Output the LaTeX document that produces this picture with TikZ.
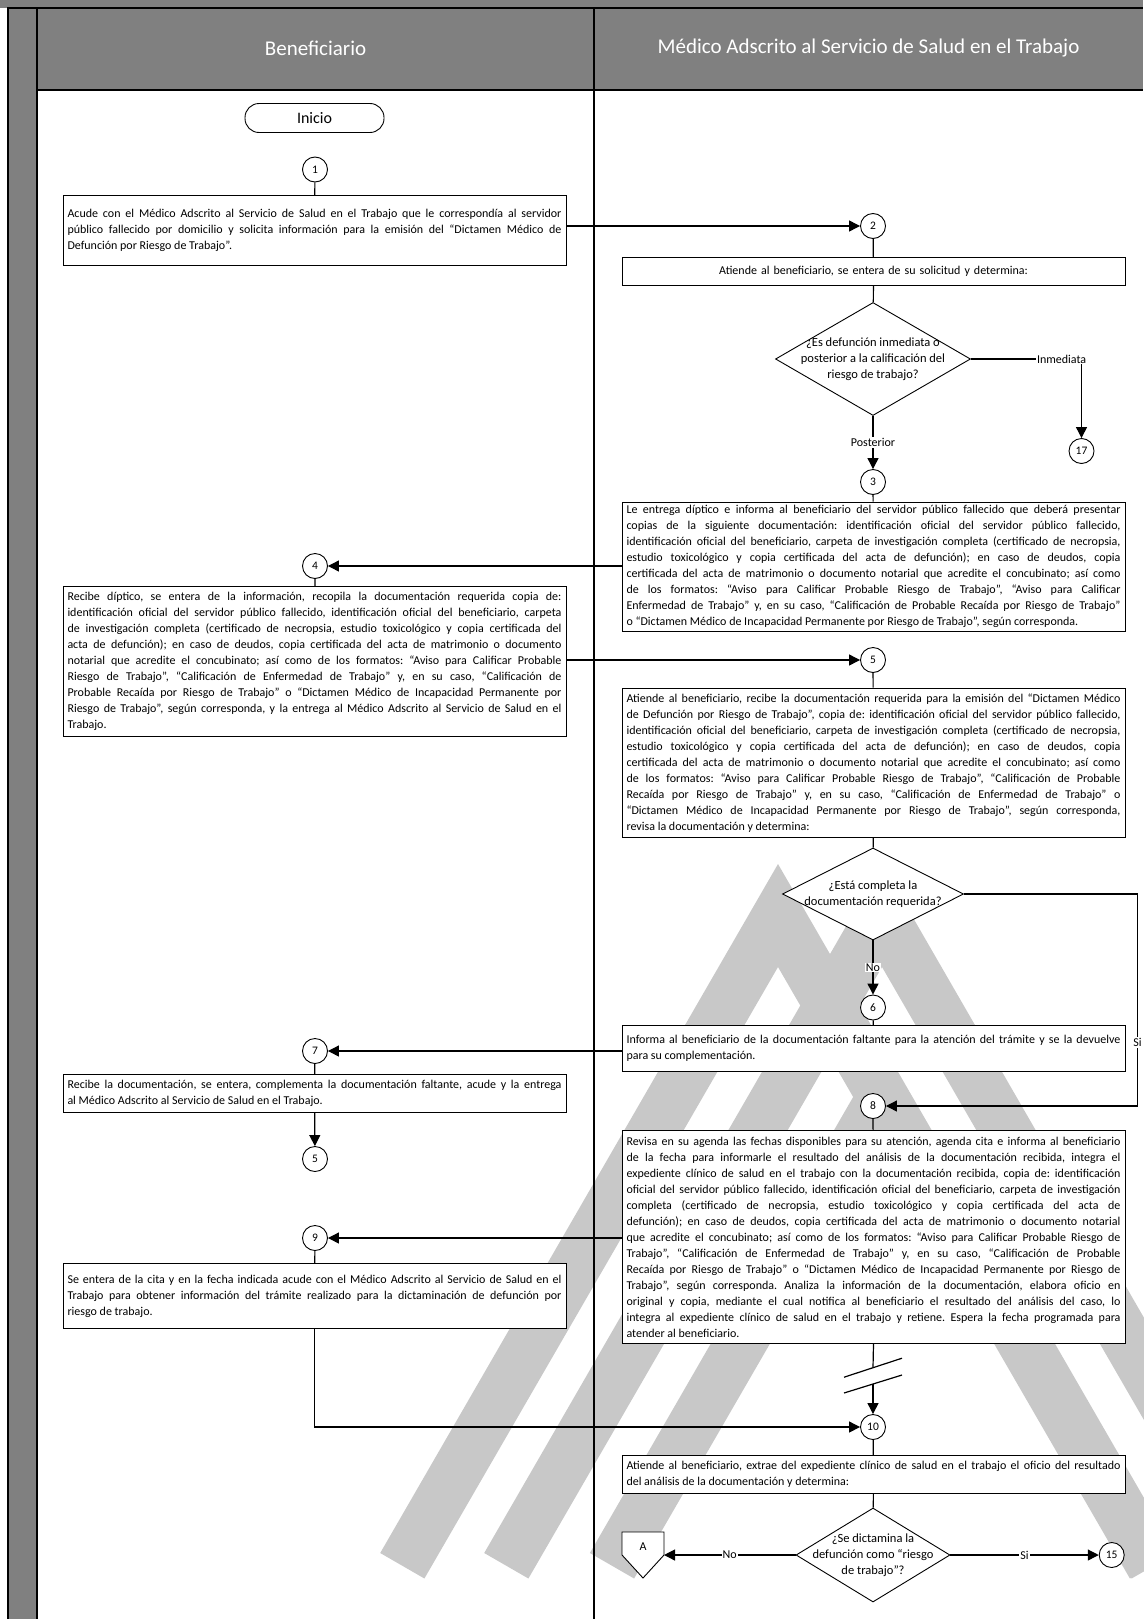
\documentclass[tikz,border=0pt]{standalone}
\usepackage{fontspec}
\setmainfont{Carlito}
\frenchspacing
\usepackage{tikz}
\usetikzlibrary{shapes.geometric, arrows.meta, positioning, calc}
\definecolor{lanecolor}{RGB}{128, 128, 128}
\definecolor{markcolor}{RGB}{200, 200, 200}

\begin{document}
\begin{tikzpicture}[x=1pt, y=-1pt,
    actbox/.style={draw, line width=0.9pt, fill=white, anchor=north, text width=494pt, align=justify, inner xsep=4.5pt, inner ysep=2.5pt, font=\fontsize{12}{16}\selectfont},
    numcircle/.style={draw, circle, fill=white, line width=0.9pt, minimum size=25pt, inner sep=0pt, font=\fontsize{11.5}{13}\selectfont},
    decision/.style={draw, diamond, fill=white, line width=0.9pt, inner sep=0pt},
    question/.style={align=center, font=\fontsize{12.5}{16}\selectfont},
    flow/.style={line width=1.2pt},
    arr/.style={flow, -{Triangle[length=11pt, width=11pt]}},
    tag/.style={fill=white, inner sep=1pt, font=\fontsize{12}{14}\selectfont},
    lanehead/.style={text=white, font=\fontsize{21}{24}\selectfont},
    laneline/.style={line width=1.6pt}]
    \useasboundingbox (0, 0) rectangle (1143, 1619);

    % Pool frame and lanes
    \fill[lanecolor] (0, 0) rectangle (1143, 8);
    \fill[lanecolor] (8, 8) rectangle (37, 1619);
    \fill[lanecolor] (37, 8) rectangle (1143, 90);

    % Watermark
    \fill[markcolor] (778, 864) -- (380.2, 1553) -- (424.4, 1578.5) -- (778, 967) -- (1131.6, 1578.5) -- (1175.8, 1553) -- cycle;
    \fill[markcolor] (882, 864) -- (484.2, 1553) -- (528.4, 1578.5) -- (882, 967) -- (1235.6, 1578.5) -- (1279.8, 1553) -- cycle;
    \fill[markcolor] (882, 1047) -- (589.9, 1553) -- (634.1, 1578.5) -- (882, 1150) -- (1129.9, 1578.5) -- (1174.1, 1553) -- cycle;

    \draw[laneline] (8, 1619) -- (8, 8) -- (1143, 8);
    \draw[laneline] (37, 8) -- (37, 1619);
    \draw[laneline] (37, 90) -- (1143, 90);
    \draw[laneline] (594, 8) -- (594, 1619);
    \node[lanehead] (hbenef) at (315.5, 48) {Beneficiario};
    \node[lanehead] (hmedico) at (868.5, 48) {Médico Adscrito al Servicio de Salud en el Trabajo};

    % Beneficiario lane
    \node[draw, line width=0.9pt, fill=white, rounded corners=14pt, minimum width=139pt, minimum height=29pt, font=\fontsize{16}{18}\selectfont] (inicio) at (314.5, 118) {Inicio};
    \node[numcircle] (c1) at (315, 169.5) {1};
    \node[actbox, minimum height=70pt] (b1) at (314.5, 195) {Acude con el Médico Adscrito al Servicio de Salud en el Trabajo que le correspondía al servidor\linebreak público fallecido por domicilio y solicita información para la emisión del “Dictamen Médico de\linebreak Defunción por Riesgo de Trabajo”.};
    \node[numcircle] (c4) at (315, 566) {4};
    \node[actbox, minimum height=150pt] (l4) at (314.5, 586) {Recibe díptico, se entera de la información, recopila la documentación requerida copia de:\linebreak identificación oficial del servidor público fallecido, identificación oficial del beneficiario, carpeta\linebreak de investigación completa (certificado de necropsia, estudio toxicológico y copia certificada del\linebreak acta de defunción); en caso de deudos, copia certificada del acta de matrimonio o documento\linebreak notarial que acredite el concubinato; así como de los formatos: “Aviso para Calificar Probable\linebreak Riesgo de Trabajo”, “Calificación de Enfermedad de Trabajo” y, en su caso, “Calificación de\linebreak Probable Recaída por Riesgo de Trabajo” o “Dictamen Médico de Incapacidad Permanente por\linebreak Riesgo de Trabajo”, según corresponda, y la entrega al Médico Adscrito al Servicio de Salud en el\linebreak Trabajo.};
    \node[numcircle] (c7) at (315, 1051) {7};
    \node[actbox, minimum height=38pt] (l7) at (314.5, 1074.3) {Recibe la documentación, se entera, complementa la documentación faltante, acude y la entrega\linebreak al Médico Adscrito al Servicio de Salud en el Trabajo.};
    \node[numcircle] (c5b) at (315, 1159) {5};
    \node[numcircle] (c9) at (315, 1238) {9};
    \node[actbox, minimum height=64.5pt] (l9) at (314.5, 1263.3) {Se entera de la cita y en la fecha indicada acude con el Médico Adscrito al Servicio de Salud en el\linebreak Trabajo para obtener información del trámite realizado para la dictaminación de defunción por\linebreak riesgo de trabajo.};

    % Medico lane
    \node[numcircle] (c2) at (873, 226) {2};
    \node[actbox, align=center, minimum height=28pt] (r2) at (873.5, 257) {Atiende al beneficiario, se entera de su solicitud y determina:};
    \node[decision, minimum width=195pt, minimum height=113pt, label={[question]center:{¿Es defunción inmediata o\\posterior a la calificación del\\riesgo de trabajo?}}] (d1) at (873, 359) {};
    \node[numcircle] (c17) at (1081.5, 451) {17};
    \node[numcircle] (c3) at (873, 482) {3};
    \node[actbox, minimum height=129pt] (r3) at (873.5, 501.7) {Le entrega díptico e informa al beneficiario del servidor público fallecido que deberá presentar\linebreak copias de la siguiente documentación: identificación oficial del servidor público fallecido,\linebreak identificación oficial del beneficiario, carpeta de investigación completa (certificado de necropsia,\linebreak estudio toxicológico y copia certificada del acta de defunción); en caso de deudos, copia\linebreak certificada del acta de matrimonio o documento notarial que acredite el concubinato; así como\linebreak de los formatos: “Aviso para Calificar Probable Riesgo de Trabajo”, “Aviso para Calificar\linebreak Enfermedad de Trabajo” y, en su caso, “Calificación de Probable Recaída por Riesgo de Trabajo”\linebreak o “Dictamen Médico de Incapacidad Permanente por Riesgo de Trabajo”, según corresponda.};
    \node[numcircle] (c5) at (873, 660) {5};
    \node[actbox, minimum height=149pt] (r5) at (873.5, 687.7) {Atiende al beneficiario, recibe la documentación requerida para la emisión del “Dictamen Médico\linebreak de Defunción por Riesgo de Trabajo”, copia de: identificación oficial del servidor público fallecido,\linebreak identificación oficial del beneficiario, carpeta de investigación completa (certificado de necropsia,\linebreak estudio toxicológico y copia certificada del acta de defunción); en caso de deudos, copia\linebreak certificada del acta de matrimonio o documento notarial que acredite el concubinato; así como\linebreak de los formatos: “Aviso para Calificar Probable Riesgo de Trabajo”, “Calificación de Probable\linebreak Recaída por Riesgo de Trabajo” y, en su caso, “Calificación de Enfermedad de Trabajo” o\linebreak “Dictamen Médico de Incapacidad Permanente por Riesgo de Trabajo”, según corresponda,\linebreak revisa la documentación y determina:};
    \node[decision, minimum width=181pt, minimum height=92pt, label={[question]center:{¿Está completa la\\documentación requerida?}}] (d2) at (873, 894) {};
    \node[numcircle] (c6) at (873, 1007.5) {6};
    \node[actbox, minimum height=46pt] (r6) at (873.5, 1025) {Informa al beneficiario de la documentación faltante para la atención del trámite y se la devuelve\linebreak para su complementación.};
    \node[numcircle] (c8) at (873, 1106) {8};
    \node[actbox, minimum height=213pt] (r8) at (873.5, 1130) {Revisa en su agenda las fechas disponibles para su atención, agenda cita e informa al beneficiario\linebreak de la fecha para informarle el resultado del análisis de la documentación recibida, integra el\linebreak expediente clínico de salud en el trabajo con la documentación recibida, copia de: identificación\linebreak oficial del servidor público fallecido, identificación oficial del beneficiario, carpeta de investigación\linebreak completa (certificado de necropsia, estudio toxicológico y copia certificada del acta de\linebreak defunción); en caso de deudos, copia certificada del acta de matrimonio o documento notarial\linebreak que acredite el concubinato; así como de los formatos: “Aviso para Calificar Probable Riesgo de\linebreak Trabajo”, “Calificación de Enfermedad de Trabajo” y, en su caso, “Calificación de Probable\linebreak Recaída por Riesgo de Trabajo” o “Dictamen Médico de Incapacidad Permanente por Riesgo de\linebreak Trabajo”, según corresponda. Analiza la información de la documentación, elabora oficio en\linebreak original y copia, mediante el cual notifica al beneficiario el resultado del análisis del caso, lo\linebreak integra al expediente clínico de salud en el trabajo y retiene. Espera la fecha programada para\linebreak atender al beneficiario.};
    \node[numcircle] (c10) at (873, 1427) {10};
    \node[actbox, minimum height=38.3pt] (r10) at (873.5, 1455) {Atiende al beneficiario, extrae del expediente clínico de salud en el trabajo el oficio del resultado\linebreak del análisis de la documentación y determina:};
    \node[decision, minimum width=154pt, minimum height=94pt, label={[question]center:{¿Se dictamina la\\defunción como “riesgo\\de trabajo”?}}] (d3) at (873, 1555) {};
    \node[numcircle] (c15) at (1111.7, 1555) {15};

    % Off-page connector A
    \draw[line width=0.9pt, fill=white] (622, 1532) -- (664, 1532) -- (664, 1555) -- (643, 1578) -- (622, 1555) -- cycle;
    \node[font=\fontsize{12}{14}\selectfont] (offa) at (643, 1547) {A};
    \coordinate (offa-in) at (664, 1555);

    % Bends and break marks
    \coordinate (sibend) at (1137.5, 894);
    \coordinate (brk1) at (873, 1367.7);
    \coordinate (brk2) at (873, 1384);

    % Connectors
    \draw[flow] (c1) -- (b1);
    \draw[arr] (b1.east |- c2) -- (c2);
    \draw[flow] (c2) -- (r2);
    \draw[flow] (r2) -- (d1);
    \draw[arr] (d1.east) -| node[tag, pos=0.41] {Inmediata} (c17);
    \draw[arr] (d1.south) -- node[tag] {Posterior} (c3);
    \draw[flow] (c3) -- (r3);
    \draw[arr] (r3.west |- c4) -- (c4);
    \draw[flow] (c4) -- (l4);
    \draw[arr] (l4.east |- c5) -- (c5);
    \draw[flow] (c5) -- (r5);
    \draw[flow] (r5) -- (d2);
    \draw[arr] (d2.south) -- node[tag] {No} (c6);
    \draw[flow] (c6) -- (r6);
    \draw[arr] (d2.east) -- (sibend) |- node[tag, pos=0.35] {Si} (c8);
    \draw[arr] (r6.west |- c7) -- (c7);
    \draw[flow] (c7) -- (l7);
    \draw[arr] (l7) -- (c5b);
    \draw[flow] (c8) -- (r8);
    \draw[arr] (r8.west |- c9) -- (c9);
    \draw[flow] (c9) -- (l9);
    \draw[arr] (l9.south) |- (c10);
    \draw[flow] (r8.south) -- (brk1);
    \draw[flow] ($(brk1)+(-29, 9.5)$) -- ($(brk1)+(29, -9.5)$);
    \draw[flow] ($(brk2)+(-29, 9)$) -- ($(brk2)+(29, -9)$);
    \draw[arr] (brk2) -- (c10);
    \draw[flow] (c10) -- (r10);
    \draw[flow] (r10) -- (d3);
    \draw[arr] (d3.west) -- node[tag] {No} (offa-in);
    \draw[arr] (d3.east) -- node[tag] {Si} (c15);
\end{tikzpicture}
\end{document}
